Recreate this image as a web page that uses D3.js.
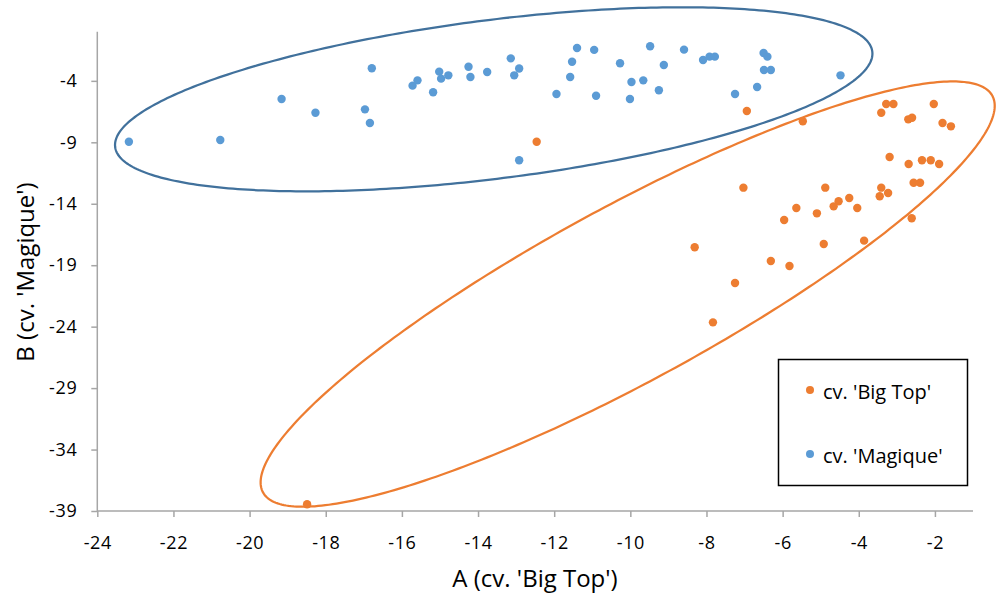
<!DOCTYPE html>
<html>
<head>
<meta charset="utf-8">
<script src="https://cdn.jsdelivr.net/npm/d3@7"></script>
<style>
  html, body { margin: 0; padding: 0; background: #fff; }
  svg { display: block; font-family: "Open Sans", Lato, sans-serif; }
</style>
</head>
<body>
<svg id="chart" width="996" height="604"></svg>
<script>
// ---- data ----
const seriesNames = ["cv. 'Big Top'", "cv. 'Magique'"];
const xTicks = [-24, -22, -20, -18, -16, -14, -12, -10, -8, -6, -4, -2];
const yTicks = [-39, -34, -29, -24, -19, -14, -9, -4];

const bigTopA = [-12.46, -6.94, -5.47, -3.28, -3.09, -3.41, -2.03, -2.70, -2.60, -1.80, -1.58,
  -3.19, -2.69, -2.34, -2.11, -1.89, -7.03, -4.88, -3.41, -2.56, -2.39, -3.23, -3.45, -4.25,
  -4.53, -4.66, -5.64, -5.10, -4.04, -5.96, -2.61, -3.86, -4.92, -8.31, -6.31, -5.82, -7.25,
  -7.83, -18.49];
const bigTopB = [-8.95, -6.45, -7.29, -5.88, -5.88, -6.59, -5.88, -7.13, -7.00, -7.43, -7.70,
  -10.20, -10.76, -10.46, -10.46, -10.76, -12.69, -12.69, -12.69, -12.29, -12.29, -13.12, -13.39, -13.53,
  -13.80, -14.21, -14.34, -14.78, -14.34, -15.32, -15.18, -17.00, -17.27, -17.54, -18.66, -19.06, -20.45,
  -23.65, -38.45];

const magiqueA = [-23.17, -20.77, -19.16, -18.27, -16.97, -16.84, -16.79, -15.72, -15.59, -15.18,
  -15.02, -14.97, -14.78, -14.25, -14.20, -13.76, -13.14, -12.92, -13.05, -12.92, -11.94, -11.58,
  -11.53, -11.40, -10.95, -10.90, -10.27, -9.97, -10.01, -9.66, -9.48, -9.25, -9.12, -8.59, -8.09,
  -7.92, -7.78, -7.25, -6.67, -6.50, -6.40, -6.49, -6.31, -4.48];
const magiqueB = [-8.95, -8.81, -5.48, -6.59, -6.32, -7.43, -2.98, -4.39, -3.96, -4.93,
  -3.25, -3.82, -3.55, -2.85, -3.69, -3.28, -2.17, -3.00, -3.55, -10.46, -5.07, -3.69,
  -2.44, -1.33, -1.48, -5.21, -2.57, -4.09, -5.48, -3.96, -1.19, -4.77, -2.71, -1.46, -2.30,
  -2.03, -2.03, -5.07, -4.50, -1.73, -2.03, -3.12, -3.12, -3.55];

// confidence ellipses in data units: centre, and two conjugate semi-axis vectors
const bigTopEllipse = { cx: -10.07, cy: -21.35, ux: 9.578, uy: 16.135, vx: 1.096, vy: -6.249 };
const magiqueEllipse = { cx: -13.588, cy: -5.50, ux: 9.943, uy: 3.885, vx: 0.2604, vy: -6.402 };

// ---- drawing ----
const colors = { bigTop: "#ED7D31", magique: "#5B9BD5", magiqueLine: "#41719C" };
const svg = d3.select("#chart");
const x = d3.scaleLinear().domain([-24, -1]).range([97.3, 973]);
const y = d3.scaleLinear().domain([-39, 0]).range([511, 31.7]);
const axisColor = "#A6A6A6";

const xAxis = svg.append("g").attr("transform", `translate(0,${y(-39)})`)
  .call(d3.axisBottom(x).tickValues(xTicks).tickSize(6).tickPadding(19).tickFormat(d => d));
const yAxis = svg.append("g").attr("transform", `translate(${x(-24)},0)`)
  .call(d3.axisLeft(y).tickValues(yTicks).tickSize(6).tickPadding(14).tickFormat(d => d));
[xAxis, yAxis].forEach(g => {
  g.select(".domain").attr("stroke", axisColor).attr("stroke-width", 1.5);
  g.selectAll(".tick line").attr("stroke", axisColor).attr("stroke-width", 1.5);
  g.selectAll(".tick text").attr("fill", "#000").style("font-size", "18px")
    .style("font-family", "'Open Sans', sans-serif").style("letter-spacing", "0.6px");
});
// remove default outer tick end caps
xAxis.select(".domain").attr("d", `M${x(-24)},0H${x(-1)}`);
yAxis.select(".domain").attr("d", `M0,${y(-39)}V${y(0)}`);

function ellipsePath(e) {
  const pts = d3.range(0, 361).map(i => {
    const t = i * Math.PI / 180;
    return [x(e.cx + e.ux * Math.cos(t) + e.vx * Math.sin(t)),
            y(e.cy + e.uy * Math.cos(t) + e.vy * Math.sin(t))];
  });
  return d3.line()(pts) + "Z";
}

svg.append("path").attr("d", ellipsePath(magiqueEllipse))
  .attr("fill", "none").attr("stroke", colors.magiqueLine).attr("stroke-width", 2.25);
svg.append("path").attr("d", ellipsePath(bigTopEllipse))
  .attr("fill", "none").attr("stroke", colors.bigTop).attr("stroke-width", 2.25);

svg.append("g").selectAll("circle").data(magiqueA.map((a, i) => [a, magiqueB[i]]))
  .join("circle").attr("cx", d => x(d[0])).attr("cy", d => y(d[1])).attr("r", 4.2)
  .attr("fill", colors.magique);
svg.append("g").selectAll("circle").data(bigTopA.map((a, i) => [a, bigTopB[i]]))
  .join("circle").attr("cx", d => x(d[0])).attr("cy", d => y(d[1])).attr("r", 4.2)
  .attr("fill", colors.bigTop);

// axis titles
svg.append("text").attr("x", 535).attr("y", 587).attr("text-anchor", "middle")
  .style("font-size", "24px").text("A (cv. 'Big Top')");
svg.append("text").attr("transform", "translate(33.5,272) rotate(-90)").attr("text-anchor", "middle")
  .style("font-size", "24px").text("B (cv. 'Magique')");

// legend
const lg = svg.append("g");
lg.append("rect").attr("x", 778.5).attr("y", 359.5).attr("width", 189).attr("height", 126)
  .attr("fill", "#fff").attr("stroke", "#000").attr("stroke-width", 1.5);
const legendItems = [[seriesNames[0], colors.bigTop, 399], [seriesNames[1], colors.magique, 463]];
legendItems.forEach(([name, c, yy]) => {
  lg.append("circle").attr("cx", 810).attr("cy", yy - 9).attr("r", 4).attr("fill", c);
  lg.append("text").attr("x", 823).attr("y", yy).style("font-size", "20px").text(name);
});
</script>
</body>
</html>
